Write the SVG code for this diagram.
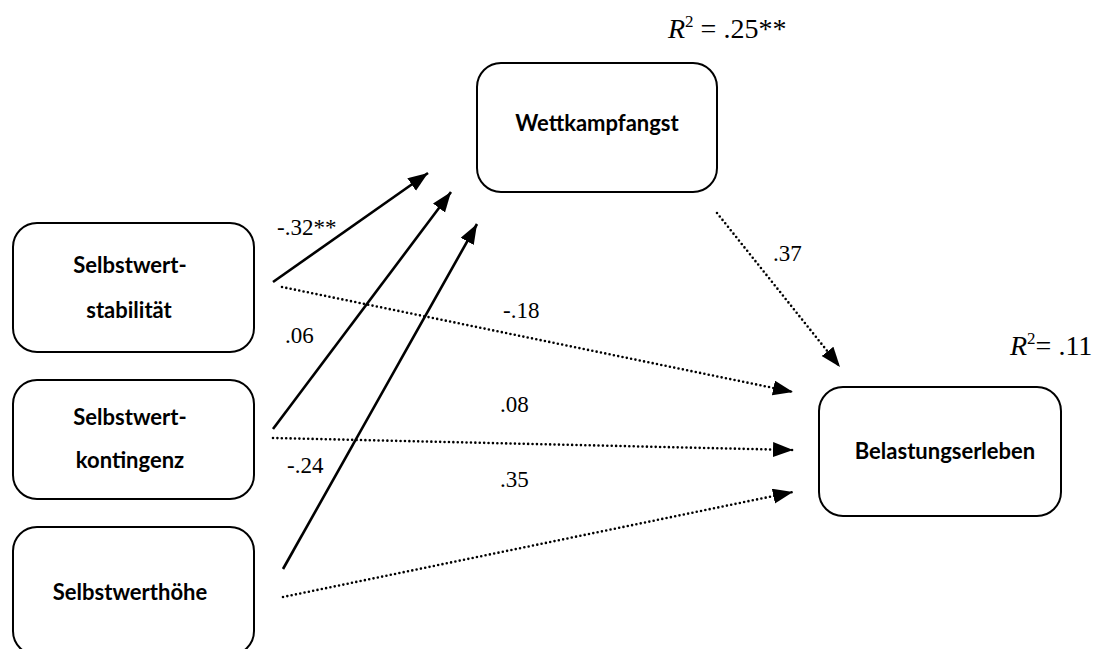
<svg xmlns="http://www.w3.org/2000/svg" width="1113" height="649" viewBox="0 0 1113 649">
  <defs>
    <marker id="head" markerUnits="userSpaceOnUse" markerWidth="21" markerHeight="16" refX="20" refY="7.5" orient="auto">
      <path d="M0,0 L20,7.5 L0,15 z" fill="#000"/>
    </marker>
    <style>
      .box { fill: #fff; stroke: #000; stroke-width: 2; }
      .lbl { font-family: Lato, "Liberation Sans", sans-serif; font-weight: bold; font-size: 22px; fill: #000; text-anchor: middle; }
      .coef { font-family: "Liberation Serif", "Times New Roman", serif; font-size: 23px; fill: #000; }
      .rsq { font-family: "Liberation Serif", "Times New Roman", serif; font-size: 28px; fill: #000; }
      .solid { stroke: #000; stroke-width: 2.6; fill: none; marker-end: url(#head); }
      .dotted { stroke: #000; stroke-width: 2.6; fill: none; stroke-dasharray: 0 4.4; stroke-linecap: round; marker-end: url(#head); }
    </style>
  </defs>
  <rect width="1113" height="649" fill="#fff"/>

  <!-- path connectors -->
  <g id="connectors">
    <line class="solid" x1="273" y1="282" x2="428" y2="173"/>
    <line class="solid" x1="273" y1="429" x2="451" y2="192"/>
    <line class="solid" x1="283" y1="569" x2="477" y2="224"/>
    <line class="dotted" x1="282" y1="287" x2="793" y2="392"/>
    <line class="dotted" x1="273" y1="438" x2="793" y2="450"/>
    <line class="dotted" x1="283" y1="597" x2="793" y2="492"/>
    <line class="dotted" x1="717" y1="213" x2="840" y2="367"/>
  </g>

  <!-- path coefficients -->
  <g id="coefficients">
    <text class="coef" x="277" y="235">-.32**</text>
    <text class="coef" x="285" y="343">.06</text>
    <text class="coef" x="503" y="318">-.18</text>
    <text class="coef" x="500" y="412">.08</text>
    <text class="coef" x="287" y="473">-.24</text>
    <text class="coef" x="500" y="487">.35</text>
    <text class="coef" x="773" y="261">.37</text>
  </g>

  <!-- explained variance -->
  <text class="rsq" x="668" y="38"><tspan font-style="italic">R</tspan><tspan font-size="17" dy="-11">2</tspan><tspan dy="11"> = .25**</tspan></text>
  <text class="rsq" x="1010" y="355"><tspan font-style="italic">R</tspan><tspan font-size="17" dy="-11">2</tspan><tspan dy="11">= .11</tspan></text>

  <g id="wettkampfangst">
    <rect class="box" x="477" y="63" width="240" height="129" rx="24"/>
    <text class="lbl" x="597" y="131">Wettkampfangst</text>
  </g>

  <g id="stabilitaet">
    <rect class="box" x="13" y="223" width="241" height="129" rx="24"/>
    <text class="lbl" x="130" y="273">Selbstwert-</text>
    <text class="lbl" x="129" y="318">stabilität</text>
  </g>

  <g id="kontingenz">
    <rect class="box" x="13" y="380" width="241" height="119" rx="24"/>
    <text class="lbl" x="130" y="425">Selbstwert-</text>
    <text class="lbl" x="130" y="468">kontingenz</text>
  </g>

  <g id="hoehe">
    <rect class="box" x="13" y="527" width="241" height="128" rx="24"/>
    <text class="lbl" x="130" y="600">Selbstwerthöhe</text>
  </g>

  <g id="belastung">
    <rect class="box" x="819" y="387" width="242" height="129" rx="24"/>
    <text class="lbl" x="945" y="459">Belastungserleben</text>
  </g>
</svg>
